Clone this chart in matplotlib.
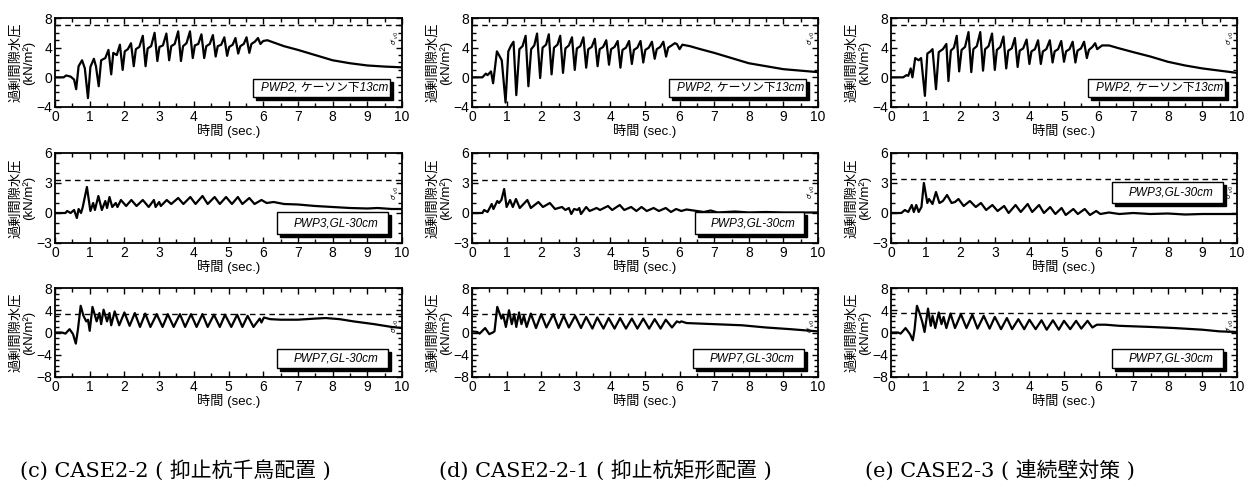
import matplotlib
matplotlib.use('Agg')
import matplotlib.pyplot as plt
from matplotlib.patches import Rectangle
from matplotlib.ticker import MultipleLocator
import matplotlib.transforms as mtransforms

plt.rcParams['font.family'] = ['Liberation Sans', 'Noto Sans CJK JP']

# ---------------- data (time [s], excess pore water pressure [kN/m2]) ----------------
cases = ['(c) CASE2-2 ( 抑止杭千鳥配置 )', '(d) CASE2-2-1 ( 抑止杭矩形配置 )', '(e) CASE2-3 ( 連続壁対策 )']
sensors = ['PWP2, ケーソン下13cm', 'PWP3,GL-30cm', 'PWP7,GL-30cm']

pwp2_c = [(0,0),(0.25,0),(0.32,0.25),(0.45,0.1),(0.55,-0.3),(0.61,-1.6),(0.68,1.5),(0.78,2.3),(0.86,1.2),(0.95,-2.8),
          (1.02,1.4),(1.12,2.5),(1.18,1.5),(1.26,-1.2),(1.33,2.3),(1.45,2.6),(1.54,3.7),(1.62,0.4),(1.68,3.3),(1.78,3.0),
          (1.87,4.4),(1.95,1.0),(2.01,3.5),(2.1,3.8),(2.19,4.6),(2.27,1.5),(2.33,3.8),(2.43,4.1),(2.53,5.6),(2.61,1.5),
          (2.67,3.9),(2.77,4.2),(2.87,6.0),(2.95,2.2),(3.01,4.1),(3.11,4.3),(3.21,5.9),(3.29,2.3),(3.35,4.2),(3.45,4.5),
          (3.55,6.2),(3.63,2.2),(3.69,4.2),(3.79,4.6),(3.89,6.2),(3.97,2.6),(4.03,4.3),(4.13,4.5),(4.22,5.8),(4.3,2.6),
          (4.36,4.2),(4.46,4.5),(4.55,5.7),(4.63,2.8),(4.69,4.2),(4.79,4.4),(4.88,5.4),(4.96,2.9),(5.02,4.1),(5.12,4.4),
          (5.2,5.3),(5.28,3.2),(5.34,4.2),(5.44,4.5),(5.52,5.4),(5.6,3.3),(5.66,4.5),(5.76,4.8),(5.85,5.3),(5.92,4.5),
          (6.0,4.9),(6.12,5.0),(6.3,4.7),(6.6,4.2),(7.0,3.7),(7.5,3.0),(8.0,2.3),(8.5,1.9),(9.0,1.6),(9.5,1.45),(10.0,1.35)]

pwp2_d = [(0,0),(0.3,0),(0.4,0.5),(0.45,0.3),(0.55,0.8),(0.61,-0.8),(0.72,3.5),(0.78,3.0),(0.86,2.3),(0.97,-3.4),
          (1.05,3.5),(1.13,4.3),(1.2,4.8),(1.28,-2.4),(1.37,3.8),(1.46,4.2),(1.55,5.6),(1.63,-1.2),(1.71,3.8),(1.8,4.3),
          (1.88,5.9),(1.97,-0.1),(2.04,4.0),(2.14,4.4),(2.22,5.8),(2.3,0.4),(2.37,4.0),(2.47,4.4),(2.55,5.6),(2.63,0.6),
          (2.7,3.9),(2.8,4.3),(2.89,5.4),(2.97,1.0),(3.03,3.9),(3.13,4.2),(3.22,5.4),(3.3,1.3),(3.36,3.8),(3.46,4.1),
          (3.55,5.2),(3.63,1.5),(3.69,3.8),(3.79,4.1),(3.88,5.0),(3.96,1.7),(4.02,3.8),(4.12,4.1),(4.21,4.9),(4.29,1.3),
          (4.35,3.7),(4.45,4.0),(4.54,4.9),(4.62,1.8),(4.68,3.7),(4.78,4.0),(4.87,4.9),(4.95,2.0),(5.01,3.7),(5.11,4.0),
          (5.2,4.8),(5.28,2.5),(5.34,3.8),(5.44,4.1),(5.53,4.8),(5.61,2.8),(5.67,4.0),(5.77,4.3),(5.86,4.6),(5.92,4.5),
          (6.0,3.8),(6.08,4.4),(6.3,4.2),(6.6,3.8),(7.0,3.3),(7.5,2.6),(8.0,1.9),(8.5,1.5),(9.0,1.1),(9.5,0.9),(10.0,0.7)]

pwp2_e = [(0,0),(0.35,0),(0.45,0.3),(0.5,0.2),(0.57,1.2),(0.62,0.0),(0.7,2.6),(0.8,2.3),(0.87,2.6),(0.98,-2.5),
          (1.05,3.2),(1.14,3.5),(1.2,3.8),(1.3,-1.6),(1.38,3.4),(1.5,3.8),(1.6,4.5),(1.66,-0.5),(1.73,3.6),(1.82,4.0),
          (1.9,5.6),(1.97,0.8),(2.04,3.7),(2.14,4.1),(2.24,6.1),(2.32,0.7),(2.38,3.8),(2.48,4.2),(2.58,6.1),(2.66,0.9),
          (2.72,3.8),(2.82,4.2),(2.92,5.9),(3.0,1.0),(3.06,3.7),(3.16,4.1),(3.25,5.5),(3.33,1.2),(3.39,3.6),(3.49,3.9),
          (3.58,5.3),(3.66,1.4),(3.72,3.6),(3.82,3.9),(3.92,5.1),(4.0,1.8),(4.06,3.5),(4.16,3.8),(4.25,5.0),(4.33,1.8),
          (4.39,3.5),(4.49,3.8),(4.59,5.0),(4.67,2.0),(4.73,3.5),(4.83,3.8),(4.92,4.9),(5.0,2.1),(5.06,3.5),(5.16,3.8),
          (5.25,4.8),(5.33,2.0),(5.39,3.6),(5.49,3.9),(5.58,4.8),(5.66,2.6),(5.72,3.7),(5.82,4.1),(5.9,4.6),(5.96,3.8),
          (6.1,4.3),(6.3,4.3),(6.6,3.9),(7.0,3.4),(7.5,2.8),(8.0,2.1),(8.5,1.6),(9.0,1.2),(9.5,0.9),(10.0,0.6)]

pwp3_c = [(0,0),(0.3,0),(0.35,0.2),(0.45,0),(0.55,0.3),(0.63,-0.5),(0.68,0.4),(0.75,0),(0.8,0.6),(0.92,2.6),
          (1.02,0.2),(1.1,1.0),(1.15,0.3),(1.25,1.7),(1.35,0.3),(1.45,1.2),(1.5,0.5),(1.57,1.6),(1.65,0.6),(1.75,1.0),
          (1.8,0.6),(1.9,1.3),(2.05,0.7),(2.2,1.3),(2.35,0.7),(2.53,1.3),(2.7,0.6),(2.85,1.3),(2.9,0.6),(3.0,1.1),
          (3.05,0.7),(3.22,1.3),(3.35,0.9),(3.55,1.5),(3.7,0.9),(3.9,1.6),(4.05,0.9),(4.25,1.7),(4.4,0.9),(4.6,1.6),
          (4.75,0.9),(4.93,1.6),(5.1,0.9),(5.27,1.6),(5.4,0.9),(5.6,1.5),(5.75,0.9),(5.95,1.3),(6.1,1.0),(6.3,1.1),
          (6.6,0.9),(7.0,0.85),(7.5,0.7),(8.0,0.6),(8.5,0.5),(9.0,0.45),(9.3,0.5),(9.7,0.4),(10.0,0.4)]

pwp3_d = [(0,0),(0.3,0),(0.35,0.3),(0.45,0.1),(0.57,0.9),(0.62,0.4),(0.73,1.2),(0.78,1.0),(0.85,1.3),(0.93,2.4),
          (1.0,0.6),(1.1,1.3),(1.18,0.6),(1.27,1.4),(1.38,0.5),(1.6,1.3),(1.7,0.5),(1.92,1.1),(2.05,0.6),(2.25,1.0),
          (2.4,0.4),(2.6,0.6),(2.7,0.3),(2.8,0.5),(2.87,-0.1),(2.95,0.4),(3.05,0.3),(3.1,0.5),(3.15,-0.1),(3.3,0.6),
          (3.4,0.2),(3.6,0.5),(3.7,0.3),(3.93,0.7),(4.05,0.3),(4.27,0.8),(4.4,0.3),(4.6,0.6),(4.75,0.2),(4.9,0.6),
          (5.05,0.2),(5.25,0.5),(5.4,0.2),(5.6,0.5),(5.75,0.1),(5.9,0.4),(6.05,0.2),(6.2,0.35),(6.5,0.2),(6.7,0.1),
          (6.9,0.25),(7.1,0.05),(7.6,0.15),(8.0,0.05),(8.5,0.1),(9.0,0.05),(10.0,0.05)]

pwp3_e = [(0,0),(0.3,0),(0.4,0.3),(0.5,0.1),(0.6,0.8),(0.66,0.1),(0.73,0.8),(0.8,0.1),(0.88,0.6),(0.95,3.0),
          (1.05,1.0),(1.1,1.4),(1.2,0.9),(1.3,2.1),(1.4,1.0),(1.5,1.2),(1.62,1.8),(1.75,1.0),(1.85,1.1),(1.95,1.4),
          (2.1,0.7),(2.28,1.2),(2.45,0.6),(2.6,1.0),(2.75,0.3),(2.93,0.8),(3.08,0.2),(3.27,0.7),(3.4,0.0),(3.6,0.8),
          (3.75,0.1),(3.95,0.9),(4.08,0.1),(4.28,0.8),(4.42,0.0),(4.6,0.6),(4.75,-0.1),(4.93,0.5),(5.05,-0.2),(5.27,0.4),
          (5.4,-0.1),(5.6,0.4),(5.75,-0.2),(5.93,0.2),(6.05,-0.1),(6.3,0.05),(6.6,-0.1),(7.0,0.0),(7.5,-0.1),(8.0,-0.05),
          (8.5,-0.15),(9.0,-0.1),(10.0,-0.1)]

pwp7_c = [(0,0),(0.2,0),(0.3,-0.2),(0.42,0.6),(0.52,-0.3),(0.6,-2.0),(0.66,0.5),(0.74,4.8),(0.82,3.0),(0.9,2.0),
          (0.95,2.3),(1.0,0.3),(1.08,4.6),(1.2,2.0),(1.28,3.5),(1.33,1.5),(1.4,4.1),(1.5,2.0),(1.57,3.5),(1.62,1.3),
          (1.72,3.8),(1.85,1.3),(2.0,3.6),(2.15,1.2),(2.3,3.5),(2.45,1.0),(2.6,3.4),(2.75,1.0),(2.93,3.3),(3.1,1.0),
          (3.25,3.3),(3.42,1.0),(3.6,3.3),(3.75,1.0),(3.92,3.3),(4.08,1.0),(4.25,3.3),(4.4,1.0),(4.58,3.2),(4.75,1.0),
          (4.9,3.2),(5.08,1.0),(5.25,3.2),(5.4,1.0),(5.55,3.0),(5.72,1.0),(5.9,2.5),(5.95,1.8),(6.02,2.7),(6.2,2.4),
          (6.5,2.3),(7.0,2.3),(7.5,2.5),(7.8,2.6),(8.2,2.4),(8.6,2.0),(9.2,1.5),(9.7,1.0),(10.0,0.8)]

pwp7_d = [(0,0.2),(0.15,0.1),(0.22,-0.2),(0.38,0.8),(0.5,-0.3),(0.6,0.0),(0.65,0.2),(0.73,4.6),(0.85,2.5),(0.9,3.2),
          (0.98,1.0),(1.07,4.0),(1.15,1.5),(1.22,3.3),(1.28,1.0),(1.36,3.6),(1.43,1.5),(1.5,3.0),(1.58,1.0),(1.7,3.4),
          (1.85,0.8),(2.0,3.3),(2.15,0.9),(2.35,3.3),(2.5,0.8),(2.65,3.0),(2.8,0.9),(2.98,3.0),(3.15,0.8),(3.3,2.8),
          (3.48,0.7),(3.62,2.7),(3.8,0.7),(3.95,2.6),(4.12,0.7),(4.28,2.6),(4.45,0.7),(4.62,2.5),(4.78,0.7),(4.95,2.5),
          (5.12,0.7),(5.28,2.4),(5.45,0.7),(5.6,2.3),(5.78,0.9),(5.92,2.0),(6.0,1.8),(6.05,2.0),(6.2,1.7),(7.0,1.5),
          (7.8,1.3),(8.5,0.9),(9.2,0.6),(10.0,0.2)]

pwp7_e = [(0,0),(0.2,0),(0.28,-0.2),(0.42,0.8),(0.55,-0.3),(0.63,-1.4),(0.68,0.5),(0.75,4.8),(0.82,3.6),(0.9,2.0),
          (0.97,0.1),(1.07,4.3),(1.15,1.2),(1.2,3.0),(1.28,0.8),(1.38,3.6),(1.46,1.5),(1.52,2.8),(1.6,0.8),(1.72,3.4),
          (1.85,0.8),(2.02,3.3),(2.18,0.8),(2.35,3.2),(2.5,0.7),(2.68,3.0),(2.85,0.7),(3.0,2.8),(3.18,0.6),(3.35,2.6),
          (3.5,0.6),(3.68,2.4),(3.85,0.6),(4.0,2.3),(4.18,0.6),(4.35,2.2),(4.5,0.5),(4.68,2.2),(4.85,0.5),(5.0,2.1),
          (5.18,0.6),(5.35,2.1),(5.5,0.7),(5.68,2.1),(5.82,0.9),(5.95,1.4),(6.2,1.4),(6.6,1.2),(7.5,1.0),(8.2,0.8),
          (9.0,0.5),(9.5,0.2),(10.0,0.1)]

# initial effective overburden stress sigma'_v0 (dashed lines), rows x columns
sigma_v0 = [[7.0, 7.0, 7.0],
            [3.3, 3.35, 3.4],
            [3.4, 3.4, 3.45]]

series = [[pwp2_c, pwp2_d, pwp2_e],
          [pwp3_c, pwp3_d, pwp3_e],
          [pwp7_c, pwp7_d, pwp7_e]]

# ---------------- layout ----------------
W, H = 1250, 487
fig = plt.figure(figsize=(W / 100, H / 100), dpi=100)

col_left = [55, 472, 891]
col_width = [347, 346, 346]
row_top = [18, 153, 288]
row_height = [89, 90, 89]
row_ylim = [(-4, 8), (-3, 6), (-8, 8)]
row_major = [4, 3, 4]
row_minor = [1, 1, 1]
# legend boxes in axes fraction: (x0, y0, x1, y1)
box_pos = [[(0.57, 0.11, 0.965, 0.32)] * 3,
           [(0.64, 0.10, 0.96, 0.344), (0.645, 0.10, 0.96, 0.344), (0.64, 0.444, 0.96, 0.678)],
           [(0.64, 0.10, 0.96, 0.31)] * 3]

for r in range(3):
    for c in range(3):
        ax = fig.add_axes([col_left[c] / W, 1 - (row_top[r] + row_height[r]) / H,
                           col_width[c] / W, row_height[r] / H])
        data = series[r][c]
        t = [p[0] for p in data]
        v = [p[1] for p in data]
        ax.plot(t, v, color='black', lw=1.6, solid_joinstyle='round', zorder=3)
        ax.axhline(sigma_v0[r][c], color='black', lw=1.0, ls=(0, (4, 3)), zorder=2)
        ax.text(9.8, sigma_v0[r][c] - 0.06 * (row_ylim[r][1] - row_ylim[r][0]), r"$\sigma'_{v0}$",
                rotation=90, fontsize=5, ha='center', va='top', zorder=3)
        ax.set_xlim(0, 10)
        ax.set_ylim(*row_ylim[r])
        ax.xaxis.set_major_locator(MultipleLocator(1))
        ax.xaxis.set_minor_locator(MultipleLocator(0.5))
        ax.yaxis.set_major_locator(MultipleLocator(row_major[r]))
        ax.yaxis.set_minor_locator(MultipleLocator(row_minor[r]))
        ax.tick_params(which='both', direction='in', top=True, right=True, width=1.0)
        ax.tick_params(which='major', length=4, labelsize=10, pad=2)
        ax.tick_params(which='minor', length=3)
        for s in ax.spines.values():
            s.set_linewidth(1.3)
        ax.set_xlabel('時間 (sec.)', fontsize=9.5, labelpad=0)
        ax.set_ylabel('過剰間隙水圧\n(kN/m²)', fontsize=9.5, labelpad=1, linespacing=0.95)

        x0, y0, x1, y1 = box_pos[r][c]
        shadow_tr = ax.transAxes + mtransforms.ScaledTranslation(2.2 / 72, -2.2 / 72, fig.dpi_scale_trans)
        ax.add_patch(Rectangle((x0, y0), x1 - x0, y1 - y0, transform=shadow_tr,
                               facecolor='black', edgecolor='black', lw=1, zorder=4))
        ax.add_patch(Rectangle((x0, y0), x1 - x0, y1 - y0, transform=ax.transAxes,
                               facecolor='white', edgecolor='black', lw=1, zorder=5))
        ax.text((x0 + x1) / 2 + 0.01, (y0 + y1) / 2, sensors[r], transform=ax.transAxes,
                ha='center', va='center', style='italic', fontsize=8.5, zorder=6)

caption_x = [175, 605, 1000]
for c in range(3):
    fig.text(caption_x[c] / W, 1 - 470 / H, cases[c], ha='center', va='center',
             fontsize=15, family=['DejaVu Serif', 'Noto Sans CJK JP'])

fig.savefig('out.png', dpi=100)
